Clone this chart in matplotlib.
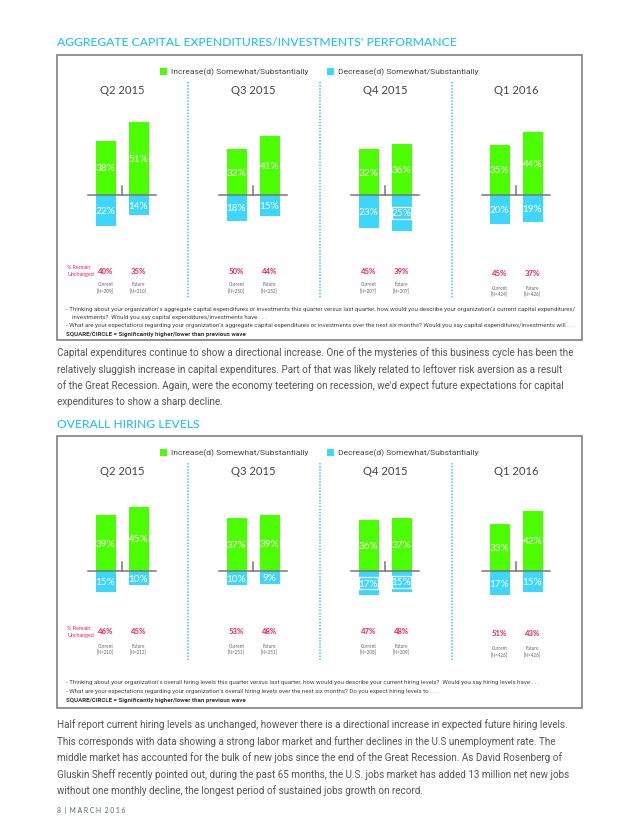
import matplotlib
matplotlib.use('Agg')
import matplotlib.pyplot as plt
from matplotlib.patches import Rectangle
from matplotlib.lines import Line2D

# ---------------- data ----------------
quarters = ['Q2 2015', 'Q3 2015', 'Q4 2015', 'Q1 2016']

capex_inc_current = [38, 32, 32, 35]
capex_inc_future = [51, 41, 36, 44]
capex_dec_current = [22, 18, 23, 20]
capex_dec_future = [14, 15, 25, 19]
capex_unch_current = [40, 50, 45, 45]
capex_unch_future = [35, 44, 39, 37]
capex_n_current = [209, 250, 207, 424]
capex_n_future = [210, 252, 207, 426]
capex_sig_dec_current = [False, False, False, False]
capex_sig_dec_future = [False, False, True, False]

hiring_inc_current = [39, 37, 36, 33]
hiring_inc_future = [45, 39, 37, 42]
hiring_dec_current = [15, 10, 17, 17]
hiring_dec_future = [10, 9, 15, 15]
hiring_unch_current = [46, 53, 47, 51]
hiring_unch_future = [45, 48, 48, 43]
hiring_n_current = [210, 251, 208, 426]
hiring_n_future = [212, 251, 209, 426]
hiring_sig_dec_current = [False, False, True, False]
hiring_sig_dec_future = [False, False, True, False]

legend_labels = ['Increase(d) Somewhat/Substantially', 'Decrease(d) Somewhat/Substantially']

# ---------------- style ----------------
W, H = 640, 828
GREEN = '#4CFF00'
BLUE = '#3DD6FF'
CYAN_TITLE = '#22C2F2'
RED = '#F2215A'
GRAY = '#555555'
DARK = '#444444'
FONT = ['Lato', 'DejaVu Sans']
NARROW = ['Roboto', 'DejaVu Sans']
plt.rcParams['font.family'] = FONT

fig = plt.figure(figsize=(6.4, 8.28), dpi=100)
fig.patch.set_facecolor('white')


def fx(x):
    return x / W


def fy(y):
    return 1 - y / H


def txt(x, y, s, **kw):
    kw.setdefault('va', 'center')
    fig.text(fx(x), fy(y), s, **kw)


def box(x0, y0, x1, y1, **kw):
    fig.add_artist(Rectangle((fx(x0), fy(y1)), fx(x1) - fx(x0), fy(y0) - fy(y1),
                             transform=fig.transFigure, **kw))


def vline(x, y0, y1, **kw):
    fig.add_artist(Line2D([fx(x), fx(x)], [fy(y0), fy(y1)], transform=fig.transFigure, **kw))


centers = [122, 253, 385, 516]
OFF = 16.5
BW = 20
PX = 1.43  # pixels per percentage point


def chart(top, base, inc_c, inc_f, dec_c, dec_f, unch_c, unch_f, n_c, n_f,
          sig_c, sig_f, remain_y, notes, box_bottom):
    # frame
    box(57, top, 582, box_bottom, fill=False, ec='#8a8a8a', lw=1.3)
    # legend
    ly = top + 16
    box(160, ly - 3.5, 167, ly + 3.5, fc=GREEN, ec='none')
    txt(171, ly, legend_labels[0], fontsize=6.1, color=DARK, family=NARROW)
    box(327, ly - 3.5, 334, ly + 3.5, fc=BLUE, ec='none')
    txt(338, ly, legend_labels[1], fontsize=6.1, color=DARK, family=NARROW)
    # headers
    for c, q in zip(centers, quarters):
        txt(c, top + 35, q, fontsize=8.1, color=DARK, ha='center')
    # separators
    for x in [188, 320, 452]:
        vline(x, top + 27, remain_y + 29, color='#39C8F3', lw=1.1, ls=(0, (1, 1)))
    # bar axes
    T, B = top + 45, remain_y - 15
    ax = fig.add_axes([fx(57), fy(B), fx(582) - fx(57), (B - T) / H])
    ax.set_xlim(57, 582)
    ax.set_ylim(-(B - base) / PX, (base - T) / PX)
    ax.axis('off')
    xc = [c - OFF for c in centers]
    xf = [c + OFF for c in centers]
    ax.bar(xc, inc_c, width=BW, color=GREEN, zorder=2)
    ax.bar(xf, inc_f, width=BW, color=GREEN, zorder=2)
    ax.bar(xc, [-v for v in dec_c], width=BW, color=BLUE, zorder=2)
    ax.bar(xf, [-v for v in dec_f], width=BW, color=BLUE, zorder=2)
    for xs, inc, dec, sig in [(xc, inc_c, dec_c, sig_c), (xf, inc_f, dec_f, sig_f)]:
        for x, vi, vd, s in zip(xs, inc, dec, sig):
            ax.text(x, vi / 2, f'{vi}%', ha='center', va='center', color='white', fontsize=7.2, zorder=4)
            ax.text(x, -vd / 2, f'{vd}%', ha='center', va='center', color='white', fontsize=7.2, zorder=4)
            if s:
                h = 12 / PX
                ax.add_patch(Rectangle((x - BW / 2 + 0.5, -vd / 2 - h / 2), BW - 1, h,
                                       fill=False, ec='white', lw=0.9, zorder=3))
    for c in centers:
        ax.plot([c - 34, c + 34], [0, 0], color='#777777', lw=1.1, zorder=3)
        ax.plot([c, c], [0, 6.3], color='#777777', lw=1.1, zorder=3)
    # remain unchanged
    txt(67, remain_y - 3.5, '% Remain', fontsize=3.9, color=RED)
    txt(67, remain_y + 4, 'Unchanged', fontsize=3.9, color=RED)
    for i, c in enumerate(centers):
        dy = 2 if i == 3 else 0
        txt(c - OFF, remain_y + dy, f'{unch_c[i]}%', fontsize=5.6, color=RED, ha='center', weight='bold')
        txt(c + OFF, remain_y + dy, f'{unch_f[i]}%', fontsize=5.6, color=RED, ha='center', weight='bold')
        dy2 = 3 if i == 3 else 0
        txt(c - OFF, remain_y + 14 + dy2, 'Current', fontsize=3.3, color='#666666', ha='center')
        txt(c - OFF, remain_y + 20.5 + dy2, f'[N={n_c[i]}]', fontsize=3.3, color='#666666', ha='center')
        txt(c + OFF, remain_y + 14 + dy2, 'Future', fontsize=3.3, color='#666666', ha='center')
        txt(c + OFF, remain_y + 20.5 + dy2, f'[N={n_f[i]}]', fontsize=3.3, color='#666666', ha='center')
    # notes
    for (y, s, bold) in notes:
        txt(66 if s.startswith('-') or bold else 72, y, s, fontsize=4.4, color='#444444' if not bold else '#333333',
            family=NARROW, weight='bold' if bold else 'normal')


txt(57, 43, "AGGREGATE CAPITAL EXPENDITURES/INVESTMENTS' PERFORMANCE", fontsize=8.7,
    color=CYAN_TITLE, weight='medium')

chart(56, 196, capex_inc_current, capex_inc_future, capex_dec_current, capex_dec_future,
      capex_unch_current, capex_unch_future, capex_n_current, capex_n_future,
      capex_sig_dec_current, capex_sig_dec_future, 271,
      [(310, "- Thinking about your organization's aggregate capital expenditures or investments this quarter versus last quarter, how would you describe your organization's current capital expenditures/", False),
       (318, "investments?  Would you say capital expenditures/investments have . . .", False),
       (326, "- What are your expectations regarding your organization's aggregate capital expenditures or investments over the next six months? Would you say capital expenditures/investments will . . .", False),
       (335, "SQUARE/CIRCLE = Significantly higher/lower than previous wave", True)],
      341)

para1 = ["Capital expenditures continue to show a directional increase. One of the mysteries of this business cycle has been the",
         "relatively sluggish increase in capital expenditures. Part of that was likely related to leftover risk aversion as a result",
         "of the Great Recession. Again, were the economy teetering on recession, we'd expect future expectations for capital",
         "expenditures to show a sharp decline."]
for i, line in enumerate(para1):
    txt(57, 353 + i * 16.3, line, fontsize=7.1, color=GRAY, family=NARROW)

txt(57, 425, "OVERALL HIRING LEVELS", fontsize=8.7, color=CYAN_TITLE, weight='medium')

chart(437, 572, hiring_inc_current, hiring_inc_future, hiring_dec_current, hiring_dec_future,
      hiring_unch_current, hiring_unch_future, hiring_n_current, hiring_n_future,
      hiring_sig_dec_current, hiring_sig_dec_future, 632,
      [(683, "- Thinking about your organization's overall hiring levels this quarter versus last quarter, how would you describe your current hiring levels?  Would you say hiring levels have . . .", False),
       (692, "- What are your expectations regarding your organization's overall hiring levels over the next six months? Do you expect hiring levels to . . .", False),
       (701, "SQUARE/CIRCLE = Significantly higher/lower than previous wave", True)],
      709)

para2 = ["Half report current hiring levels as unchanged, however there is a directional increase in expected future hiring levels.",
         "This corresponds with data showing a strong labor market and further declines in the U.S unemployment rate. The",
         "middle market has accounted for the bulk of new jobs since the end of the Great Recession. As David Rosenberg of",
         "Gluskin Sheff recently pointed out, during the past 65 months, the U.S. jobs market has added 13 million net new jobs",
         "without one monthly decline, the longest period of sustained jobs growth on record."]
for i, line in enumerate(para2):
    txt(57, 725 + i * 16.5, line, fontsize=7.1, color=GRAY, family=NARROW)

txt(57, 810, "8  |  M A R C H  2 0 1 6", fontsize=4.8, color='#556070')

fig.savefig('out.png', dpi=100, facecolor='white')
